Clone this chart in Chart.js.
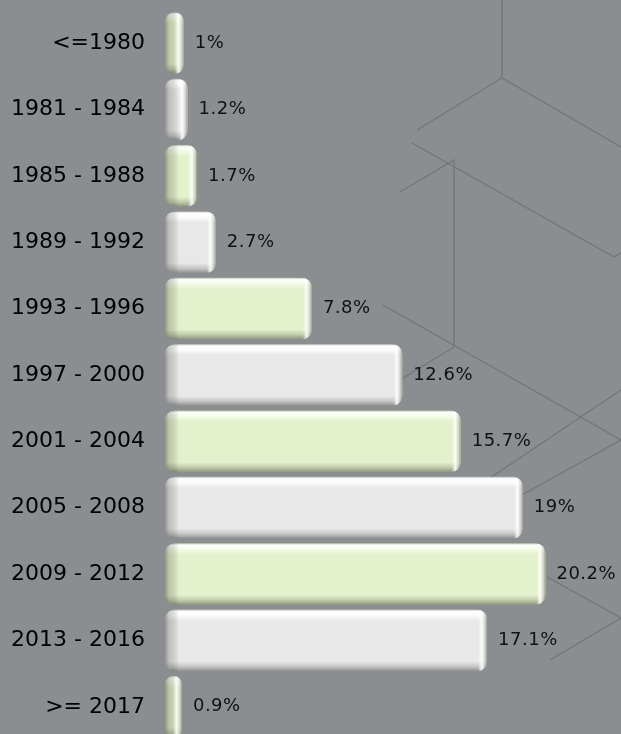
<!DOCTYPE html>
<html>
<head>
<meta charset="utf-8">
<script src="https://cdn.jsdelivr.net/npm/chart.js@4/dist/chart.umd.min.js"></script>
<style>
  html, body { margin: 0; padding: 0; background: #8b8e91; overflow: hidden; }
</style>
</head>
<body>
<canvas id="myChart" width="621" height="740"></canvas>
<script>
// 데이터
const categories = ['<=1980', '1981 - 1984', '1985 - 1988', '1989 - 1992', '1993 - 1996', '1997 - 2000',
                    '2001 - 2004', '2005 - 2008', '2009 - 2012', '2013 - 2016', '>= 2017'];
const shares = [1, 1.2, 1.7, 2.7, 7.8, 12.6, 15.7, 19, 20.2, 17.1, 0.9];

const GREEN = ['#f4fbe6', '#e4f1cd', '#bcc6a6', '#8c937c'];
const WHITE = ['#fbfbfb', '#e8e8e8', '#c2c2c2', '#8e8e8e'];
const BAR_PCT = 0.93;

// 막대 색상 (세로 그라데이션)
function barFill(context) {
    const chart = context.chart;
    const area = chart.chartArea;
    const pal = context.dataIndex % 2 === 0 ? GREEN : WHITE;
    if (!area) return pal[1];
    const y = chart.scales.y.getPixelForValue(context.dataIndex);
    const h = (area.bottom - area.top) / categories.length * BAR_PCT;
    const g = chart.ctx.createLinearGradient(0, y - h / 2, 0, y + h / 2);
    g.addColorStop(0, pal[2]);
    g.addColorStop(0.03, '#ffffff');
    g.addColorStop(0.10, pal[0]);
    g.addColorStop(0.18, pal[1]);
    g.addColorStop(0.84, pal[1]);
    g.addColorStop(0.93, pal[2]);
    g.addColorStop(1, pal[3]);
    return g;
}

// 배경 장식선
const decoration = {
    id: 'decoration',
    beforeDraw(chart) {
        const c = chart.ctx;
        const segs = [
            [[502, 0], [502, 78], [417, 130]],
            [[502, 78], [621, 147]],
            [[412, 143], [614, 257], [621, 253]],
            [[400, 192], [454, 160], [454, 347], [400, 380]],
            [[383, 305], [621, 440]],
            [[621, 390], [487, 480]],
            [[621, 440], [522, 495]],
            [[547, 577], [621, 618], [550, 660]]
        ];
        c.save();
        c.strokeStyle = 'rgba(112,115,118,0.9)';
        c.lineWidth = 1.3;
        segs.forEach(s => {
            c.beginPath();
            c.moveTo(s[0][0], s[0][1]);
            for (let i = 1; i < s.length; i++) c.lineTo(s[i][0], s[i][1]);
            c.stroke();
        });
        c.restore();
    }
};

// 막대 좌우 음영 + 값 라벨
const bevelAndLabels = {
    id: 'bevelAndLabels',
    afterDatasetsDraw(chart) {
        const c = chart.ctx;
        const meta = chart.getDatasetMeta(0);
        meta.data.forEach((bar, i) => {
            const top = bar.y - bar.height / 2;
            const left = bar.base;
            const w = bar.x - bar.base;
            const r = Math.min(10, w / 2);
            c.save();
            c.beginPath();
            c.roundRect(left, top, w, bar.height, r);
            c.clip();
            let g = c.createLinearGradient(left, 0, left + 14, 0);
            g.addColorStop(0, 'rgba(60,60,50,0.5)');
            g.addColorStop(0.3, 'rgba(90,90,80,0.28)');
            g.addColorStop(1, 'rgba(0,0,0,0)');
            c.fillStyle = g;
            c.fillRect(left, top, Math.min(14, w), bar.height);
            g = c.createLinearGradient(bar.x - 9, 0, bar.x, 0);
            g.addColorStop(0, 'rgba(255,255,255,0)');
            g.addColorStop(0.45, 'rgba(255,255,255,0.9)');
            g.addColorStop(0.75, 'rgba(200,200,190,0.5)');
            g.addColorStop(1, 'rgba(90,90,80,0.6)');
            c.fillStyle = g;
            c.fillRect(bar.x - 9, top, 9, bar.height);
            c.restore();

            c.save();
            c.font = '18px "DejaVu Sans"';
            c.letterSpacing = '0.5px';
            c.fillStyle = '#111';
            c.textAlign = 'left';
            c.textBaseline = 'middle';
            c.fillText(shares[i] + '%', bar.x + 11, bar.y);
            c.restore();
        });
    }
};

const ctx = document.getElementById('myChart').getContext('2d');
const chart = new Chart(ctx, {
    type: 'bar',
    data: {
        labels: categories,
        datasets: [{
            data: shares,
            backgroundColor: barFill,
            borderWidth: 0,
            borderRadius: 10,
            borderSkipped: false,
            barPercentage: BAR_PCT,
            categoryPercentage: 1
        }]
    },
    options: {
        indexAxis: 'y',
        responsive: false,
        animation: false,
        layout: { padding: { top: 10, right: 4, left: 10, bottom: 0 } },
        plugins: { legend: { display: false }, tooltip: { enabled: false } },
        scales: {
            x: { display: false, min: 0, max: 24 },
            y: {
                grid: { display: false, drawTicks: false },
                border: { display: false },
                afterFit(scale) {
                    scale.width = 155;
                    scale.paddingTop = 0;
                    scale.paddingBottom = 0;
                },
                ticks: {
                    color: '#000',
                    padding: 20,
                    font: { family: '"DejaVu Sans"', size: 22 }
                }
            }
        }
    },
    plugins: [decoration, bevelAndLabels]
});
</script>
</body>
</html>
